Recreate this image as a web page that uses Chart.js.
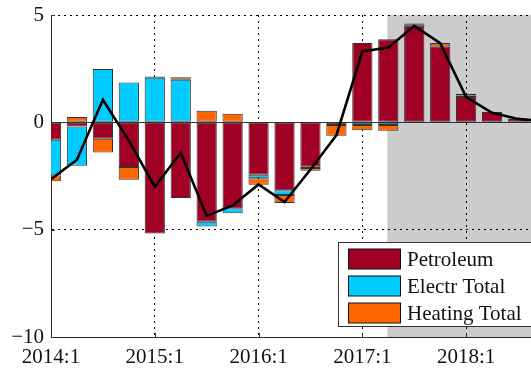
<!DOCTYPE html>
<html>
<head>
<meta charset="utf-8">
<script src="https://cdn.jsdelivr.net/npm/chart.js@4"></script>
<style>
html, body { margin: 0; padding: 0; background: #fff; overflow: hidden; }
#wrap { width: 531px; height: 369px; }
</style>
</head>
<body>
<div id="wrap"><canvas id="decompChart"></canvas></div>
<script>
// quarterly contributions, 2014:1 .. 2018:4
var quarters = ['2014:1', '2014:2', '2014:3', '2014:4',
                '2015:1', '2015:2', '2015:3', '2015:4',
                '2016:1', '2016:2', '2016:3', '2016:4',
                '2017:1', '2017:2', '2017:3', '2017:4',
                '2018:1', '2018:2', '2018:3', '2018:4'];
var yearTicks = [0, 4, 8, 12, 16];
var yTicks = [-10, -5, 0, 5];

var petroleum    = [-0.81, -0.19, -0.77, -2.08, -5.18, -3.53, -4.63, -4.00, -2.44, -3.16,
                    -2.04, -0.12, 3.69, 3.87, 4.50, 3.53, 1.18, 0.48, 0.16, 0.05];
var electrTotal  = [-1.67, -1.83, 2.48, 1.85, 2.08, 1.98, -0.22, -0.24, -0.16, -0.23,
                    -0.09, 0, -0.12, -0.12, 0.05, 0, 0.07, 0, 0, 0];
var heatingTotal = [-0.27, 0.25, -0.63, -0.60, 0.05, 0.12, 0.54, 0.40, -0.31, -0.37,
                    -0.13, -0.50, -0.25, -0.27, 0.05, 0.16, 0.08, 0, 0, 0];
var netTotal     = [-2.65, -1.74, 1.05, -0.85, -3.00, -1.42, -4.36, -3.87, -2.89, -3.71,
                    -2.20, -0.60, 3.30, 3.48, 4.49, 3.69, 1.18, 0.44, 0.16, 0.05];

var forecastStart = 13;   // first quarter of the shaded period

function pts(arr) {
    return arr.map(function (v, i) { return { x: i, y: v }; });
}

function barSet(label, values, color) {
    return {
        label: label,
        data: pts(values),
        backgroundColor: color,
        borderColor: '#333',
        borderWidth: 1,
        borderSkipped: false,
        barPercentage: 0.78,
        categoryPercentage: 1,
        clip: 0
    };
}

// grey band behind the forecast quarters
var shadePlugin = {
    id: 'shade',
    beforeDraw: function (chart) {
        var ca = chart.chartArea, x = chart.scales.x;
        var x0 = x.getPixelForValue(forecastStart) - 1;
        var ctx = chart.ctx;
        ctx.save();
        ctx.fillStyle = '#cccccc';
        ctx.fillRect(x0, ca.top, ca.right - x0, ca.bottom - ca.top);
        ctx.restore();
    }
};

// zero line and inward tick marks
var axesPlugin = {
    id: 'axesExtra',
    beforeDatasetsDraw: function (chart) {
        var ca = chart.chartArea, ctx = chart.ctx;
        var xs = chart.scales.x, ys = chart.scales.y;
        ctx.save();
        ctx.strokeStyle = '#333';
        ctx.lineWidth = 1;
        var y0 = Math.round(ys.getPixelForValue(0)) + 0.5;
        ctx.beginPath();
        ctx.moveTo(ca.left, y0);
        ctx.lineTo(ca.right, y0);
        ctx.stroke();
        ctx.beginPath();
        yearTicks.forEach(function (v) {
            var px = Math.round(xs.getPixelForValue(v)) + 0.5;
            ctx.moveTo(px, ca.bottom);
            ctx.lineTo(px, ca.bottom - 4);
        });
        yTicks.forEach(function (v) {
            var py = Math.round(ys.getPixelForValue(v)) + 0.5;
            ctx.moveTo(ca.left, py);
            ctx.lineTo(ca.left + 4, py);
        });
        ctx.stroke();
        ctx.restore();
    }
};

// boxed legend in the lower right corner
var legendPlugin = {
    id: 'boxLegend',
    afterDraw: function (chart) {
        var ctx = chart.ctx;
        var items = chart.data.datasets.filter(function (d) { return d.type !== 'line'; });
        var left = 338.5, top = 242.5, rowH = 27;
        ctx.save();
        ctx.fillStyle = '#fff';
        ctx.fillRect(left, top, 220, 84);
        ctx.strokeStyle = '#333';
        ctx.lineWidth = 1;
        ctx.strokeRect(left, top, 220, 84);
        ctx.font = '21px "Liberation Serif", "Times New Roman", serif';
        ctx.textBaseline = 'middle';
        items.forEach(function (d, i) {
            var cy = top + 16.5 + i * rowH;
            ctx.fillStyle = d.backgroundColor;
            ctx.fillRect(348.5, cy - 10, 52, 20);
            ctx.strokeStyle = '#111';
            ctx.strokeRect(348.5, cy - 10, 52, 20);
            ctx.fillStyle = '#111';
            ctx.fillText(d.label, 407, cy + 1);
        });
        ctx.restore();
    }
};

Chart.defaults.font.family = '"Liberation Serif", "Times New Roman", serif';
Chart.defaults.font.size = 21;
Chart.defaults.color = '#111';

new Chart(document.getElementById('decompChart'), {
    type: 'bar',
    data: {
        datasets: [
            {
                type: 'line',
                label: 'Total',
                data: pts(netTotal),
                borderColor: '#000',
                borderWidth: 2.6,
                pointRadius: 0,
                tension: 0,
                fill: false,
                order: -1
            },
            barSet('Petroleum', petroleum, '#a00024'),
            barSet('Electr Total', electrTotal, '#00ccff'),
            barSet('Heating Total', heatingTotal, '#ff6600')
        ]
    },
    options: {
        responsive: true,
        maintainAspectRatio: false,
        animation: false,
        layout: { padding: { top: 15, left: 0, right: 0, bottom: 0 } },
        plugins: { legend: { display: false }, tooltip: { enabled: false } },
        scales: {
            x: {
                type: 'linear',
                stacked: true,
                offset: false,
                min: 0,
                max: 18.5,
                afterBuildTicks: function (s) {
                    s.ticks = yearTicks.map(function (v) { return { value: v }; });
                },
                afterFit: function (s) { s.height = 32; },
                grid: {
                    offset: false,
                    color: function (c) { return c.tick && c.tick.value === 0 ? 'rgba(0,0,0,0)' : '#000'; },
                    drawTicks: false
                },
                border: { display: true, color: '#262626', width: 1, dash: [2, 4] },
                ticks: {
                    autoSkip: false,
                    maxRotation: 0,
                    padding: 8,
                    callback: function (v) { return quarters[v]; }
                }
            },
            y: {
                stacked: true,
                min: -10,
                max: 5,
                afterBuildTicks: function (s) {
                    s.ticks = yTicks.map(function (v) { return { value: v }; });
                },
                afterFit: function (s) {
                    s.width = 51;
                    s.paddingTop = 0;
                    s.paddingBottom = 0;
                },
                grid: {
                    color: function (c) {
                        return c.tick && (c.tick.value === 0 || c.tick.value === -10) ? 'rgba(0,0,0,0)' : '#000';
                    },
                    drawTicks: false
                },
                border: { display: true, color: '#262626', width: 1, dash: [2, 4] },
                ticks: {
                    padding: 7,
                    callback: function (v) { return v < 0 ? '\u2212' + Math.abs(v) : String(v); }
                }
            }
        }
    },
    plugins: [shadePlugin, axesPlugin, legendPlugin]
});
</script>
</body>
</html>
